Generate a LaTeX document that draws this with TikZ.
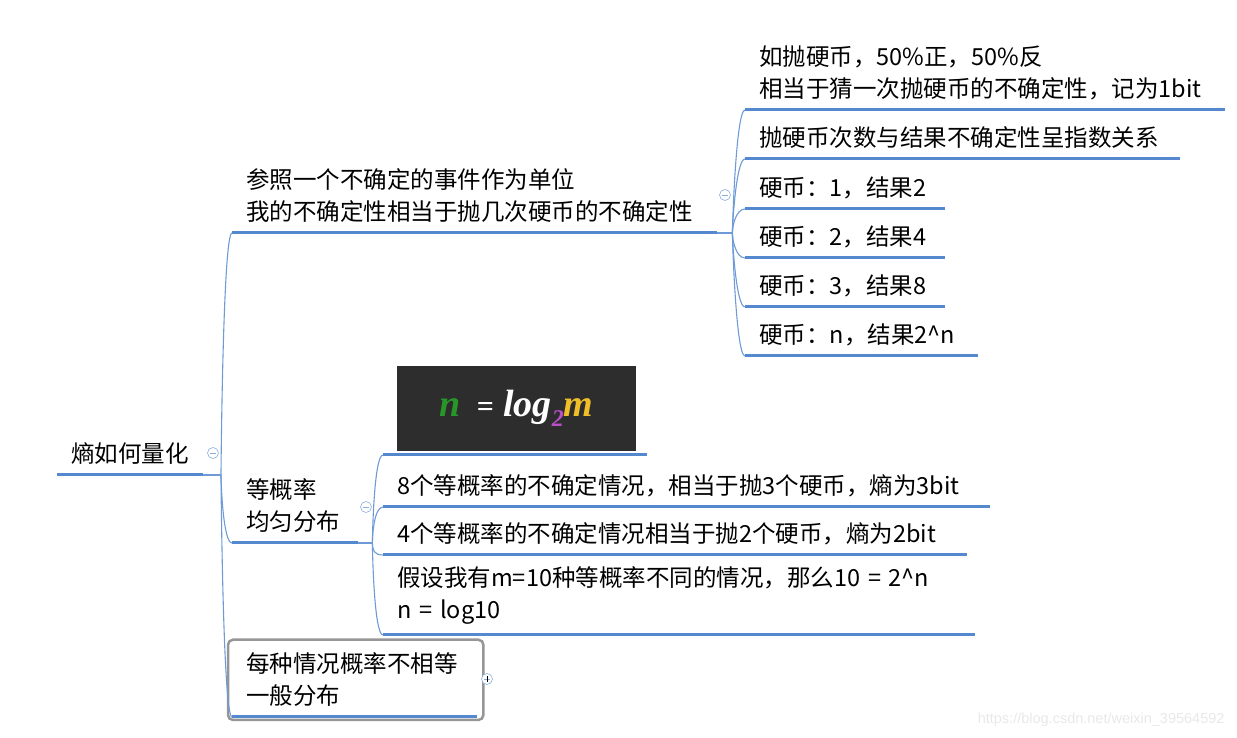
\documentclass[tikz,border=0pt]{standalone}
\usepackage{fontspec}
\setmainfont{Noto Sans CJK SC}
\newfontfamily\formfont{Liberation Serif}
\newfontfamily\markfont{Liberation Sans}
\usepackage{xcolor}
\definecolor{branchblue}{RGB}{84,137,208}
\definecolor{linkblue}{RGB}{110,155,215}
\definecolor{selgray}{RGB}{150,150,150}
\definecolor{boardgray}{RGB}{45,45,45}
\definecolor{formgreen}{RGB}{40,150,40}
\definecolor{formpurple}{RGB}{185,80,200}
\definecolor{formgold}{RGB}{240,190,40}
\usetikzlibrary{positioning}
\tikzset{
  topic/.style={anchor=south west, align=left, inner xsep=14pt, inner ysep=10pt,
    font=\fontsize{23.5}{32}\selectfont},
  tw/.style={text width=#1},
  uline/.style={draw=branchblue, line width=3pt},
  link/.style={draw=linkblue, line width=1.1pt, out distance=7pt, in distance=9pt},
  selbox/.style={draw=selgray, line width=2.5pt, rounded corners=5pt},
}
\tikzset{
  foldminus/.style={circle, draw=linkblue!80, fill=white, line width=0.6pt,
    inner sep=0pt, minimum size=11pt,
    path picture={\draw[linkblue!80, line width=0.6pt]
      ([xshift=-3pt]path picture bounding box.center) -- ([xshift=3pt]path picture bounding box.center);}},
  foldplus/.style={foldminus,
    append after command={[linkblue!80, line width=0.6pt]
      ([yshift=-3pt]\tikzlastnode.center) edge ([yshift=3pt]\tikzlastnode.center)}},
}

\begin{document}
\begin{tikzpicture}[x=1pt,y=1pt]
    \useasboundingbox (0,0) rectangle (1237,738);
    % root and first level
    \node[topic, tw=118pt] (root) at (57,263) {熵如何量化};
    \coordinate (jr) at (221,263);
    \node[topic, tw=457pt] (t1) at (232,505) {参照一个不确定的事件作为单位\\我的不确定性相当于抛几次硬币的不确定性};
    \node[topic, tw=98pt] (t2) at (232,195) {等概率\\均匀分布};
    \node[topic, tw=217pt] (t3) at (232,21) {每种情况概率不相等\\一般分布};
    \draw[selbox] ([shift={(-4pt,-3pt)}]t3.south west) rectangle ([shift={(6pt,3pt)}]t3.north east);
    \coordinate[right=15pt of t1.south east] (j1);
    \coordinate[right=14pt of t2.south east] (j2);
    % coins
    \node[topic, tw=452pt] (c1) at (745,628) {如抛硬币，50\%正，50\%反\\相当于猜一次抛硬币的不确定性，记为1bit};
    \node[topic, tw=407pt] (c2) at (745,579) {抛硬币次数与结果不确定性呈指数关系};
    \node[topic, tw=172pt] (c3) at (745,529) {硬币：1，结果2};
    \node[topic, tw=172pt] (c4) at (745,480) {硬币：2，结果4};
    \node[topic, tw=172pt] (c5) at (745,431) {硬币：3，结果8};
    \node[topic, tw=205pt] (c6) at (745,382) {硬币：n，结果2\^{}n};
    % equal probability
    \node[fill=boardgray, anchor=south west, inner sep=0pt, minimum width=239pt, minimum height=85pt] (img) at (397,287)
        {\formfont\bfseries\itshape\fontsize{38}{40}\selectfont
         \textcolor{formgreen}{n}\, \textcolor{white}{{\upshape\fontsize{30}{30}\selectfont=} log}\raisebox{-10pt}{\fontsize{24}{24}\selectfont\textcolor{formpurple}{2}}\textcolor{formgold}{m}};
    \node[topic, tw=579pt] (e1) at (383,231) {8个等概率的不确定情况，相当于抛3个硬币，熵为3bit};
    \node[topic, tw=556pt] (e2) at (383,183) {4个等概率的不确定情况相当于抛2个硬币，熵为2bit};
    \node[topic, tw=564pt] (e3) at (383,103) {假设我有m=10种等概率不同的情况，那么10 = 2\^{}n\\n = log10};

    \foreach \n in {root,t1,t2,t3,c1,c2,c3,c4,c5,c6,e1,e2,e3}
        \draw[uline] (\n.south west) -- (\n.south east);
    \draw[uline] ([xshift=-14pt,yshift=-4pt]img.south west) -- ([xshift=11pt,yshift=-4pt]img.south east);

    \draw[link] (root.south east) -- (jr);
    \draw[link] (t1.south east) -- (j1);
    \draw[link] (t2.south east) -- (j2);
    \foreach \c/\a in {t1/90,t2/270,t3/270}
        \draw[link] (jr) to[out=\a,in=180] (\c.south west);
    \foreach \c/\a in {c1/90,c2/90,c3/90,c4/270,c5/270,c6/270}
        \draw[link] (j1) to[out=\a,in=180] (\c.south west);
    \draw[link] (j2) to[out=90,in=180] ([xshift=-14pt,yshift=-4pt]img.south west);
    \foreach \c/\a in {e1/90,e2/270,e3/270}
        \draw[link] (j2) to[out=\a,in=180] (\c.south west);

    \node[foldminus] (fr) at (213,285) {};
    \node[foldminus] (f1) at (725,543) {};
    \node[foldminus] (f2) at (366,231) {};
    \node[foldplus] (f3) at (487,59) {};

    \node[anchor=east, font=\markfont\fontsize{14.5}{16}\selectfont, text=gray!18] (mark) at (1228,18) {https://blog.csdn.net/weixin\_39564592};
\end{tikzpicture}
\end{document}
